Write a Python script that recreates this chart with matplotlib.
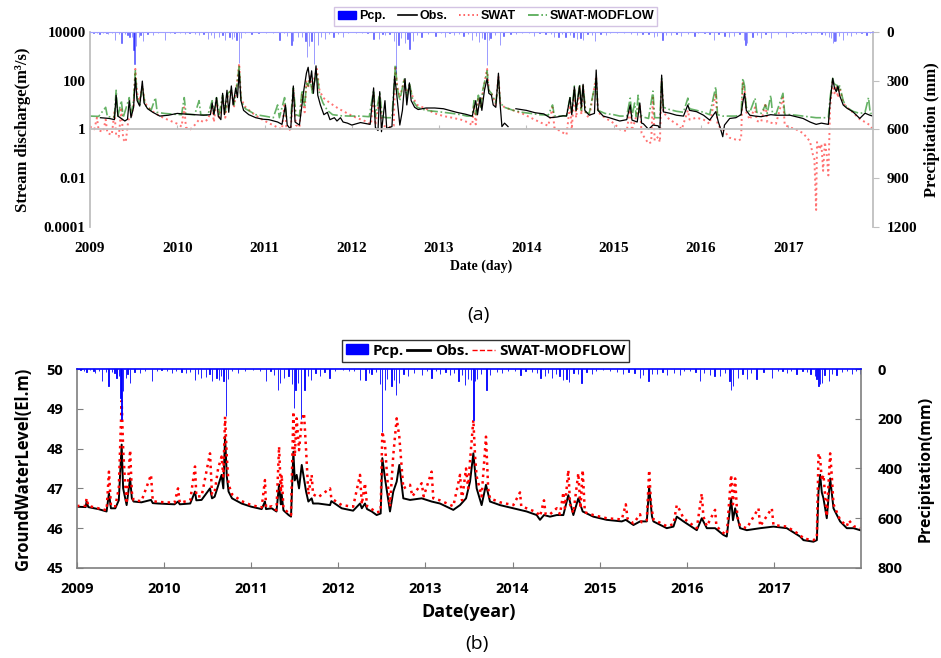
import numpy as np
import matplotlib
matplotlib.use("Agg")
import matplotlib.pyplot as plt
from matplotlib.patches import Patch
from matplotlib.lines import Line2D
from matplotlib.ticker import NullLocator

############################################################################
#                 values (decimal year)                #
############################################################################

years = list(range(2009, 2018))

# daily precipitation events, mm (shared by both panels)
pcp = [
    (2009.04, 6), (2009.08, 10), (2009.11, 12), (2009.15, 5), (2009.19, 8), (2009.21, 16),
    (2009.25, 9), (2009.29, 48), (2009.33, 14), (2009.36, 70), (2009.40, 12), (2009.43, 18),
    (2009.455, 35), (2009.48, 30), (2009.50, 115), (2009.51, 200), (2009.53, 90), (2009.56, 35),
    (2009.58, 20), (2009.61, 55), (2009.66, 12), (2009.72, 18), (2009.78, 8), (2009.86, 48),
    (2009.92, 10), (2009.97, 6),
    (2010.03, 8), (2010.09, 15), (2010.14, 10), (2010.20, 12), (2010.25, 18), (2010.30, 14),
    (2010.355, 44), (2010.39, 20), (2010.42, 38), (2010.48, 32), (2010.52, 20), (2010.55, 50),
    (2010.60, 35), (2010.63, 45), (2010.65, 30), (2010.68, 48), (2010.71, 190), (2010.73, 40),
    (2010.78, 10), (2010.85, 15), (2010.93, 8),
    (2011.02, 5), (2011.10, 8), (2011.17, 50), (2011.22, 10), (2011.26, 25), (2011.31, 84),
    (2011.33, 55), (2011.38, 35), (2011.43, 30), (2011.47, 60), (2011.49, 158), (2011.51, 85),
    (2011.54, 55), (2011.57, 200), (2011.61, 84), (2011.65, 30), (2011.69, 45), (2011.74, 15),
    (2011.79, 30), (2011.84, 12), (2011.90, 35), (2011.96, 8),
    (2012.05, 6), (2012.12, 10), (2012.18, 8), (2012.25, 44), (2012.31, 45), (2012.35, 15),
    (2012.38, 20), (2012.43, 12), (2012.48, 60), (2012.505, 255), (2012.535, 84), (2012.56, 40),
    (2012.61, 70), (2012.64, 45), (2012.66, 105), (2012.70, 55), (2012.75, 20), (2012.80, 30),
    (2012.87, 15), (2012.96, 25),
    (2013.02, 8), (2013.07, 35), (2013.12, 10), (2013.17, 20), (2013.23, 12), (2013.28, 25),
    (2013.33, 15), (2013.38, 48), (2013.42, 25), (2013.455, 63), (2013.49, 40), (2013.52, 45),
    (2013.55, 205), (2013.57, 50), (2013.59, 40), (2013.64, 20), (2013.70, 84), (2013.74, 25),
    (2013.82, 12), (2013.88, 15), (2013.95, 10),
    (2014.03, 8), (2014.09, 25), (2014.15, 10), (2014.22, 12), (2014.28, 15), (2014.32, 35),
    (2014.37, 30), (2014.41, 15), (2014.45, 35), (2014.50, 20), (2014.54, 30), (2014.58, 45),
    (2014.62, 40), (2014.65, 51), (2014.70, 15), (2014.75, 20), (2014.79, 55), (2014.85, 12),
    (2014.91, 20), (2014.96, 8),
    (2015.04, 6), (2015.12, 10), (2015.20, 12), (2015.27, 20), (2015.33, 12), (2015.40, 15),
    (2015.465, 35), (2015.50, 25), (2015.56, 48), (2015.60, 20), (2015.655, 20), (2015.72, 12),
    (2015.77, 25), (2015.85, 15), (2015.925, 25), (2015.97, 10),
    (2016.04, 8), (2016.10, 12), (2016.15, 48), (2016.20, 15), (2016.27, 25), (2016.32, 30),
    (2016.38, 28), (2016.44, 15), (2016.49, 50), (2016.51, 84), (2016.53, 70), (2016.59, 35),
    (2016.64, 20), (2016.69, 40), (2016.74, 15), (2016.80, 40), (2016.88, 12), (2016.975, 35),
    (2017.05, 8), (2017.10, 10), (2017.15, 15), (2017.20, 8), (2017.26, 20), (2017.33, 10),
    (2017.38, 12), (2017.42, 20), (2017.47, 30), (2017.49, 40), (2017.51, 70), (2017.53, 60),
    (2017.55, 55), (2017.58, 25), (2017.63, 50), (2017.67, 20), (2017.72, 25), (2017.78, 12),
    (2017.84, 10), (2017.895, 20), (2017.94, 8), (2017.99, 20),
]

# (a) stream discharge, m3/s
q_obs = [
    (2009.12, 3.0), (2009.22, 2.8), (2009.28, 2.5), (2009.30, 25), (2009.32, 3.5), (2009.40, 2.2),
    (2009.43, 2.6), (2009.45, 15), (2009.47, 3.0), (2009.50, 8), (2009.52, 130), (2009.54, 15),
    (2009.57, 9), (2009.60, 95), (2009.62, 12), (2009.66, 7), (2009.72, 5), (2009.80, 3.5),
    (2009.90, 3.8), (2010.00, 4.5), (2010.10, 4.2), (2010.20, 4.0), (2010.30, 3.8), (2010.38, 4.0),
    (2010.40, 12), (2010.42, 4), (2010.45, 20), (2010.47, 3.5), (2010.50, 2.5), (2010.52, 30),
    (2010.54, 4), (2010.57, 40), (2010.59, 5), (2010.62, 60), (2010.64, 10), (2010.67, 50),
    (2010.69, 20), (2010.71, 250), (2010.73, 15), (2010.76, 6), (2010.82, 4), (2010.90, 3.0),
    (2010.98, 2.6), (2011.05, 2.5), (2011.15, 2.0), (2011.20, 1.6), (2011.24, 10), (2011.26, 1.5),
    (2011.30, 1.0), (2011.33, 60), (2011.35, 2.0), (2011.40, 1.5), (2011.45, 40), (2011.48, 200),
    (2011.50, 350), (2011.52, 80), (2011.54, 250), (2011.56, 30), (2011.59, 400), (2011.61, 25),
    (2011.64, 10), (2011.68, 4), (2011.72, 5), (2011.75, 2.5), (2011.80, 3.0), (2011.83, 2.2),
    (2011.87, 3.0), (2011.90, 2.0), (2011.95, 1.8), (2012.00, 1.5), (2012.10, 1.9), (2012.21, 1.6),
    (2012.25, 50), (2012.27, 1.2), (2012.30, 0.9), (2012.32, 35), (2012.34, 0.8), (2012.38, 15),
    (2012.40, 1.1), (2012.46, 1.3), (2012.49, 150), (2012.51, 40), (2012.53, 8), (2012.55, 1.5),
    (2012.58, 6), (2012.61, 120), (2012.63, 10), (2012.66, 80), (2012.68, 15), (2012.72, 8),
    (2012.76, 6.5), (2012.85, 7.5), (2012.95, 7.5), (2013.05, 7.0), (2013.12, 6.0), (2013.20, 5.0),
    (2013.30, 4.2), (2013.38, 3.5), (2013.42, 15), (2013.44, 4), (2013.47, 20), (2013.49, 6),
    (2013.52, 40), (2013.55, 120), (2013.57, 30), (2013.60, 25), (2013.62, 10), (2013.65, 8),
    (2013.68, 200), (2013.70, 10), (2013.72, 1.3), (2013.75, 1.8), (2013.79, 1.3), (2013.83, np.nan),
    (2013.88, 7.0), (2014.00, 6.0), (2014.10, 4.8), (2014.20, 4.3), (2014.27, 3.0), (2014.35, 3.2),
    (2014.42, 3.6), (2014.46, 3.5), (2014.50, 20), (2014.52, 4), (2014.55, 55), (2014.57, 6),
    (2014.61, 60), (2014.63, 8), (2014.65, 70), (2014.67, 6), (2014.72, 3.8), (2014.78, 4.5),
    (2014.80, 270), (2014.82, 6), (2014.88, 3.5), (2014.95, 3.0), (2015.07, 2.2), (2015.15, 2.5),
    (2015.19, 10), (2015.21, 2.4), (2015.27, 2.0), (2015.30, 12), (2015.32, 1.8), (2015.34, 1.7),
    (2015.40, 1.0), (2015.45, 1.5), (2015.51, 1.4), (2015.53, 1.0), (2015.55, 167), (2015.57, 5.2),
    (2015.64, 4.6), (2015.72, 3.8), (2015.80, 3.5), (2015.85, 10), (2015.87, 6), (2015.95, 5.3),
    (2016.03, 3.8), (2016.10, 2.4), (2016.17, 5.3), (2016.20, 2.0), (2016.22, 1.2), (2016.25, 0.5),
    (2016.27, 1.5), (2016.33, 2.8), (2016.40, 3.0), (2016.46, 4.0), (2016.48, 13), (2016.50, 30),
    (2016.52, 6), (2016.56, 3.8), (2016.62, 3.5), (2016.69, 3.3), (2016.80, 4.0), (2016.86, 3.8),
    (2017.02, 3.8), (2017.09, 3.3), (2017.17, 2.8), (2017.25, 2.0), (2017.32, 1.6), (2017.38, 1.8),
    (2017.46, 1.6), (2017.48, 13), (2017.51, 123), (2017.53, 50), (2017.55, 35), (2017.57, 60),
    (2017.59, 24), (2017.63, 10), (2017.67, 7.5), (2017.74, 5.3), (2017.82, 2.8), (2017.88, 4.6),
    (2017.935, 3.8), (2017.97, 3.5),
]

q_swat = [
    (2009.00, 1.3), (2009.05, 1.0), (2009.08, 3.0), (2009.10, 0.9), (2009.15, 0.8), (2009.18, 2.5),
    (2009.20, 0.7), (2009.25, 0.6), (2009.28, 5), (2009.30, 0.6), (2009.33, 0.5), (2009.36, 8),
    (2009.38, 0.4), (2009.41, 0.3), (2009.44, 2.5), (2009.47, 3), (2009.50, 10), (2009.52, 300),
    (2009.54, 30), (2009.57, 15), (2009.60, 60), (2009.63, 12), (2009.70, 6), (2009.80, 3.5),
    (2009.90, 2.4), (2010.00, 1.7), (2010.05, 1.3), (2010.08, 8), (2010.10, 1.2), (2010.15, 1.0),
    (2010.20, 1.5), (2010.25, 2.5), (2010.30, 2.0), (2010.35, 2.5), (2010.40, 8), (2010.42, 2.0),
    (2010.45, 15), (2010.48, 2.5), (2010.52, 20), (2010.55, 3), (2010.58, 25), (2010.62, 40),
    (2010.65, 8), (2010.68, 60), (2010.71, 500), (2010.73, 20), (2010.77, 9), (2010.85, 5),
    (2010.95, 2.8), (2011.05, 1.8), (2011.15, 1.2), (2011.20, 1.0), (2011.23, 12), (2011.25, 1.3),
    (2011.30, 0.9), (2011.33, 40), (2011.36, 1.5), (2011.40, 1.2), (2011.43, 30), (2011.46, 5),
    (2011.48, 100), (2011.50, 50), (2011.52, 150), (2011.55, 40), (2011.57, 120), (2011.60, 300),
    (2011.63, 40), (2011.67, 20), (2011.75, 12), (2011.85, 7), (2011.95, 4.5), (2012.05, 3.0),
    (2012.15, 2.2), (2012.22, 1.6), (2012.25, 30), (2012.27, 1.5), (2012.32, 20), (2012.35, 1.4),
    (2012.40, 1.3), (2012.45, 1.2), (2012.48, 1.4), (2012.50, 400), (2012.52, 60), (2012.55, 20),
    (2012.60, 100), (2012.63, 25), (2012.66, 60), (2012.70, 20), (2012.75, 10), (2012.85, 7),
    (2012.95, 4.5), (2013.05, 3.5), (2013.15, 3.0), (2013.25, 2.5), (2013.32, 2.0), (2013.38, 1.5),
    (2013.40, 10), (2013.42, 1.6), (2013.45, 20), (2013.48, 8), (2013.50, 30), (2013.55, 300),
    (2013.57, 40), (2013.60, 30), (2013.65, 10), (2013.68, 150), (2013.70, 12), (2013.75, 8),
    (2013.85, 6), (2013.95, 4.5), (2014.05, 3.0), (2014.15, 2.0), (2014.25, 1.4), (2014.30, 8),
    (2014.32, 1.2), (2014.40, 0.8), (2014.46, 0.6), (2014.50, 10), (2014.52, 1.0), (2014.55, 40),
    (2014.57, 3), (2014.61, 50), (2014.63, 4), (2014.65, 60), (2014.68, 4), (2014.72, 3),
    (2014.80, 150), (2014.82, 5), (2014.90, 3.0), (2015.00, 1.8), (2015.07, 1.0), (2015.15, 0.85),
    (2015.19, 8), (2015.21, 0.9), (2015.30, 10), (2015.32, 0.7), (2015.40, 0.26), (2015.43, 0.3),
    (2015.45, 20), (2015.47, 0.35), (2015.51, 0.5), (2015.53, 0.3), (2015.55, 100), (2015.57, 5),
    (2015.64, 2.5), (2015.72, 1.7), (2015.78, 1.0), (2015.85, 6), (2015.87, 2.5), (2015.95, 3.0),
    (2016.03, 2.5), (2016.10, 1.7), (2016.17, 30), (2016.19, 1.5), (2016.25, 1.0), (2016.33, 0.45),
    (2016.38, 0.4), (2016.43, 0.35), (2016.46, 0.4), (2016.48, 80), (2016.50, 40), (2016.52, 5),
    (2016.56, 2.5), (2016.62, 8), (2016.64, 2.2), (2016.69, 2.0), (2016.74, 12), (2016.76, 2.0),
    (2016.86, 1.7), (2016.94, 20), (2016.96, 1.5), (2017.02, 1.2), (2017.09, 1.0), (2017.17, 0.7),
    (2017.25, 0.32), (2017.28, 0.1), (2017.30, 0.06), (2017.32, 0.0005), (2017.33, 0.3),
    (2017.36, 0.15), (2017.38, 0.25), (2017.40, 0.02), (2017.42, 0.3), (2017.44, 0.1),
    (2017.46, 0.013), (2017.48, 8), (2017.51, 100), (2017.53, 30), (2017.55, 60), (2017.57, 20),
    (2017.59, 50), (2017.63, 12), (2017.67, 8), (2017.74, 5), (2017.82, 2.6), (2017.88, 2.0),
    (2017.935, 1.5), (2017.97, 1.0),
]

q_swmf = [
    (2009.00, 3.5), (2009.10, 3.4), (2009.18, 8), (2009.20, 3.3), (2009.28, 3.2), (2009.30, 40),
    (2009.32, 3.5), (2009.36, 15), (2009.38, 3.0), (2009.45, 20), (2009.47, 4), (2009.50, 15),
    (2009.52, 250), (2009.54, 20), (2009.57, 10), (2009.60, 60), (2009.63, 10), (2009.70, 6),
    (2009.75, 20), (2009.77, 5), (2009.85, 4.5), (2009.95, 4.2), (2010.05, 4.0), (2010.08, 20),
    (2010.10, 4.2), (2010.20, 4.0), (2010.25, 15), (2010.27, 4.0), (2010.35, 3.8), (2010.40, 15),
    (2010.42, 4.5), (2010.45, 20), (2010.48, 4), (2010.52, 25), (2010.55, 5), (2010.58, 30),
    (2010.62, 40), (2010.65, 10), (2010.68, 50), (2010.71, 400), (2010.73, 15), (2010.78, 7),
    (2010.90, 4.0), (2011.00, 3.5), (2011.10, 3.0), (2011.15, 10), (2011.17, 3.0), (2011.23, 20),
    (2011.25, 3.2), (2011.30, 3.0), (2011.33, 50), (2011.36, 4), (2011.40, 3.5), (2011.43, 40),
    (2011.46, 8), (2011.48, 80), (2011.50, 60), (2011.52, 120), (2011.55, 30), (2011.57, 80),
    (2011.60, 200), (2011.63, 30), (2011.67, 12), (2011.72, 6), (2011.78, 4.0), (2011.88, 3.6),
    (2011.98, 3.5), (2012.10, 3.5), (2012.20, 3.3), (2012.25, 40), (2012.27, 3.3), (2012.32, 30),
    (2012.35, 3.2), (2012.40, 3.0), (2012.46, 3.0), (2012.50, 450), (2012.52, 50), (2012.55, 15),
    (2012.60, 120), (2012.63, 20), (2012.66, 80), (2012.70, 15), (2012.75, 8), (2012.85, 6),
    (2012.95, 5.5), (2013.05, 5.0), (2013.15, 4.5), (2013.25, 4.0), (2013.32, 3.5), (2013.38, 3.5),
    (2013.40, 15), (2013.42, 4), (2013.45, 25), (2013.48, 8), (2013.50, 40), (2013.55, 250),
    (2013.57, 40), (2013.60, 30), (2013.65, 12), (2013.68, 100), (2013.70, 12), (2013.75, 8),
    (2013.85, 6), (2013.95, 5.0), (2014.05, 4.5), (2014.15, 4.0), (2014.25, 3.8), (2014.30, 10),
    (2014.32, 3.6), (2014.40, 3.5), (2014.46, 3.6), (2014.50, 20), (2014.52, 5), (2014.55, 60),
    (2014.57, 6), (2014.61, 70), (2014.63, 6), (2014.65, 60), (2014.68, 5), (2014.72, 4.5),
    (2014.80, 120), (2014.82, 6), (2014.90, 4.5), (2015.00, 4.0), (2015.07, 3.5), (2015.15, 3.5),
    (2015.19, 19), (2015.21, 3.5), (2015.24, 12), (2015.26, 3.3), (2015.28, 25), (2015.30, 4),
    (2015.34, 3.2), (2015.40, 2.8), (2015.45, 37), (2015.47, 3), (2015.51, 3.0), (2015.53, 3.0),
    (2015.55, 120), (2015.57, 8), (2015.64, 6.5), (2015.72, 5.5), (2015.80, 5.0), (2015.85, 19),
    (2015.87, 7), (2015.95, 6.0), (2016.03, 5.0), (2016.10, 4.0), (2016.17, 56), (2016.19, 4.0),
    (2016.25, 3.5), (2016.33, 3.5), (2016.40, 3.5), (2016.46, 4.0), (2016.48, 123), (2016.50, 60),
    (2016.52, 8), (2016.56, 5), (2016.62, 19), (2016.64, 5), (2016.69, 4.5), (2016.74, 10),
    (2016.76, 4.5), (2016.80, 25), (2016.82, 4.5), (2016.86, 4.2), (2016.94, 30), (2016.96, 4.2),
    (2017.02, 4.0), (2017.09, 3.8), (2017.17, 3.5), (2017.25, 3.2), (2017.32, 3.0), (2017.38, 3.0),
    (2017.46, 3.0), (2017.48, 20), (2017.51, 123), (2017.53, 60), (2017.55, 80), (2017.57, 40),
    (2017.59, 60), (2017.63, 15), (2017.67, 8), (2017.74, 5.5), (2017.82, 4.5), (2017.88, 5.0),
    (2017.92, 20), (2017.94, 4.5), (2017.97, 4.5),
]

# (b) groundwater level, El.m
gw_obs = [
    (2009.00, 46.54), (2009.10, 46.53), (2009.11, 46.67), (2009.13, 46.53), (2009.245, 46.48),
    (2009.34, 46.42), (2009.367, 46.88), (2009.39, 46.50), (2009.44, 46.50), (2009.48, 46.70),
    (2009.513, 48.10), (2009.53, 47.00), (2009.57, 46.58), (2009.61, 47.25), (2009.63, 46.75),
    (2009.65, 46.67), (2009.74, 46.65), (2009.85, 46.71), (2009.87, 46.63), (2009.93, 46.62),
    (2010.12, 46.60), (2010.16, 46.67), (2010.18, 46.60), (2010.30, 46.62), (2010.355, 46.92),
    (2010.37, 46.70), (2010.43, 46.71), (2010.527, 47.00), (2010.55, 46.75), (2010.58, 46.79),
    (2010.66, 47.34), (2010.68, 47.00), (2010.70, 48.30), (2010.72, 47.30), (2010.74, 46.92),
    (2010.78, 46.75), (2010.89, 46.62), (2011.00, 46.54), (2011.12, 46.48), (2011.158, 46.67),
    (2011.17, 46.48), (2011.235, 46.50), (2011.29, 46.42), (2011.32, 47.10), (2011.34, 46.60),
    (2011.35, 46.85), (2011.37, 46.45), (2011.43, 46.33), (2011.457, 46.29), (2011.484, 47.92),
    (2011.50, 47.20), (2011.522, 47.34), (2011.549, 47.00), (2011.58, 47.59), (2011.606, 47.25),
    (2011.63, 46.92), (2011.656, 46.67), (2011.694, 46.75), (2011.71, 46.62), (2011.77, 46.62),
    (2011.905, 46.58), (2011.92, 46.68), (2012.039, 46.50), (2012.17, 46.44), (2012.249, 46.62),
    (2012.27, 46.50), (2012.306, 46.62), (2012.33, 46.48), (2012.383, 46.42), (2012.44, 46.33),
    (2012.486, 46.37), (2012.505, 47.76), (2012.536, 47.25), (2012.593, 46.42), (2012.631, 46.92),
    (2012.67, 47.17), (2012.70, 47.59), (2012.746, 46.75), (2012.823, 46.71), (2012.957, 46.75),
    (2013.071, 46.67), (2013.167, 46.62), (2013.32, 46.46), (2013.397, 46.58), (2013.466, 46.75),
    (2013.512, 47.17), (2013.55, 47.88), (2013.588, 47.00), (2013.645, 46.58), (2013.695, 47.09),
    (2013.741, 46.67), (2013.856, 46.58), (2014.009, 46.50), (2014.162, 46.42), (2014.277, 46.33),
    (2014.315, 46.21), (2014.361, 46.33), (2014.43, 46.29), (2014.507, 46.33), (2014.583, 46.33),
    (2014.64, 46.83), (2014.698, 46.33), (2014.755, 46.75), (2014.805, 46.42), (2014.927, 46.29),
    (2015.08, 46.21), (2015.254, 46.17), (2015.30, 46.21), (2015.388, 46.08), (2015.464, 46.17),
    (2015.541, 46.17), (2015.568, 47.04), (2015.60, 46.30), (2015.617, 46.17), (2015.77, 46.00),
    (2015.847, 46.04), (2015.885, 46.29), (2015.962, 46.17), (2016.115, 45.95), (2016.172, 46.25),
    (2016.23, 46.00), (2016.325, 46.00), (2016.421, 45.83), (2016.459, 45.79), (2016.509, 46.75),
    (2016.53, 46.20), (2016.555, 46.50), (2016.612, 46.00), (2016.689, 45.95), (2016.842, 46.00),
    (2016.995, 46.04), (2017.148, 46.00), (2017.301, 45.79), (2017.339, 45.70), (2017.454, 45.66),
    (2017.493, 45.70), (2017.512, 46.92), (2017.531, 47.34), (2017.55, 46.90), (2017.569, 46.75),
    (2017.607, 46.25), (2017.646, 47.25), (2017.684, 46.50), (2017.76, 46.17), (2017.837, 46.00),
    (2017.914, 46.00), (2017.99, 45.95),
]

gw_swmf = [
    (2009.00, 46.56), (2009.10, 46.56), (2009.11, 46.75), (2009.13, 46.56), (2009.245, 46.50),
    (2009.34, 46.45), (2009.367, 47.42), (2009.39, 46.55), (2009.44, 46.55), (2009.48, 47.00),
    (2009.513, 49.20), (2009.53, 48.00), (2009.55, 47.20), (2009.57, 46.62), (2009.61, 47.96),
    (2009.63, 46.90), (2009.65, 46.70), (2009.74, 46.68), (2009.85, 47.34), (2009.87, 46.68),
    (2009.93, 46.66), (2010.12, 46.64), (2010.16, 47.00), (2010.18, 46.64), (2010.30, 46.70),
    (2010.355, 47.55), (2010.37, 46.80), (2010.43, 46.80), (2010.527, 47.88), (2010.55, 46.85),
    (2010.58, 46.90), (2010.62, 47.50), (2010.66, 47.80), (2010.68, 47.30), (2010.70, 48.80),
    (2010.72, 47.80), (2010.74, 47.10), (2010.78, 46.85), (2010.89, 46.68), (2011.00, 46.58),
    (2011.12, 46.52), (2011.158, 47.21), (2011.17, 46.52), (2011.235, 46.55), (2011.29, 46.45),
    (2011.32, 48.05), (2011.34, 46.90), (2011.35, 47.34), (2011.37, 46.50), (2011.43, 46.38),
    (2011.457, 46.33), (2011.484, 48.93), (2011.50, 47.80), (2011.522, 48.76), (2011.549, 47.96),
    (2011.58, 48.68), (2011.606, 48.89), (2011.63, 47.96), (2011.656, 46.85), (2011.694, 47.34),
    (2011.71, 46.85), (2011.77, 46.78), (2011.905, 47.00), (2011.92, 46.75), (2012.039, 46.58),
    (2012.17, 46.54), (2012.249, 47.34), (2012.27, 46.60), (2012.306, 47.13), (2012.33, 46.55),
    (2012.383, 46.48), (2012.44, 46.40), (2012.486, 46.42), (2012.505, 48.43), (2012.536, 48.10),
    (2012.56, 47.30), (2012.593, 46.55), (2012.631, 47.84), (2012.67, 48.76), (2012.70, 48.30),
    (2012.746, 47.00), (2012.823, 47.09), (2012.85, 46.80), (2012.957, 47.13), (2012.98, 46.80),
    (2013.071, 47.42), (2013.09, 46.75), (2013.167, 46.70), (2013.32, 46.55), (2013.397, 47.34),
    (2013.42, 46.70), (2013.466, 47.50), (2013.49, 47.00), (2013.512, 47.70), (2013.55, 48.72),
    (2013.57, 47.80), (2013.588, 47.30), (2013.645, 46.80), (2013.695, 48.30), (2013.72, 47.00),
    (2013.741, 46.75), (2013.856, 46.65), (2014.009, 46.58), (2014.086, 46.90), (2014.10, 46.55),
    (2014.162, 46.50), (2014.277, 46.40), (2014.315, 46.30), (2014.361, 46.70), (2014.38, 46.35),
    (2014.43, 46.35), (2014.507, 46.50), (2014.545, 46.35), (2014.583, 46.90), (2014.60, 46.50),
    (2014.64, 47.46), (2014.66, 46.60), (2014.698, 46.38), (2014.755, 47.38), (2014.78, 46.50),
    (2014.805, 47.46), (2014.83, 46.40), (2014.927, 46.33), (2015.08, 46.25), (2015.254, 46.22),
    (2015.30, 46.60), (2015.32, 46.24), (2015.388, 46.12), (2015.464, 46.35), (2015.48, 46.15),
    (2015.541, 46.20), (2015.568, 47.46), (2015.59, 46.60), (2015.617, 46.22), (2015.77, 46.05),
    (2015.847, 46.10), (2015.885, 46.58), (2015.92, 46.45), (2015.962, 46.25), (2016.115, 46.00),
    (2016.172, 46.87), (2016.19, 46.30), (2016.23, 46.05), (2016.325, 46.46), (2016.34, 46.05),
    (2016.421, 45.88), (2016.459, 45.84), (2016.509, 47.34), (2016.53, 46.60), (2016.555, 47.25),
    (2016.58, 46.30), (2016.612, 46.05), (2016.689, 46.00), (2016.823, 46.50), (2016.842, 46.05),
    (2016.976, 46.50), (2016.995, 46.08), (2017.148, 46.04), (2017.301, 45.83), (2017.339, 45.74),
    (2017.454, 45.70), (2017.493, 45.75), (2017.512, 47.88), (2017.531, 47.75), (2017.55, 47.20),
    (2017.569, 47.34), (2017.607, 46.30), (2017.646, 47.88), (2017.665, 47.30), (2017.684, 46.60),
    (2017.76, 46.21), (2017.837, 46.05), (2017.86, 46.20), (2017.914, 46.05), (2017.99, 46.00),
]


def unzip(pairs):
    a = np.array(pairs, dtype=float)
    return a[:, 0], a[:, 1]


pcp_t, pcp_mm = unzip(pcp)
qo_t, qo = unzip(q_obs)
qs_t, qs = unzip(q_swat)
qm_t, qm = unzip(q_swmf)
go_t, go = unzip(gw_obs)
gm_t, gm = unzip(gw_swmf)

############################################################################
#                                 Plotting                                 #
############################################################################

fig = plt.figure(figsize=(9.41, 6.58), dpi=100)

SERIF = 'Liberation Serif'
SANS = 'Open Sans'
grey = '#bfbfbf'

# ---------------------------- (a) discharge ------------------------------
ax = fig.add_axes([0.0956, 0.655, 0.832, 0.2968])
ax.plot(qs_t, qs, color='red', ls=':', lw=1.4, alpha=0.55)
ax.plot(qm_t, qm, color='green', ls='-.', lw=1.2, alpha=0.6)
ax.plot(qo_t, qo, color='black', lw=0.9)
ax.set_yscale('log')
ax.set_ylim(1e-4, 1e4)
ax.set_xlim(2009, 2017.97)
ax.set_yticks([1e-4, 1e-2, 1, 1e2, 1e4])
ax.set_yticklabels(['0.0001', '0.01', '1', '100', '10000'])
ax.yaxis.set_minor_locator(NullLocator())
ax.tick_params(axis='y', length=0, pad=3)

# horizontal axis crosses at 1
ax.spines['bottom'].set_position(('data', 1))
ax.spines['bottom'].set_color(grey)
ax.spines['bottom'].set_linewidth(1.3)
ax.spines['left'].set_color(grey)
ax.spines['left'].set_linewidth(1.3)
ax.spines['top'].set_visible(False)
ax.spines['right'].set_visible(False)
ax.set_xticks(years)
ax.tick_params(axis='x', direction='in', length=3, color=grey, labelbottom=False)

sec = ax.secondary_xaxis('bottom')
sec.set_xticks(years)
sec.spines['bottom'].set_visible(False)
sec.tick_params(length=0, pad=11)
for lab in sec.get_xticklabels():
    lab.set_fontfamily(SERIF)
    lab.set_fontweight('bold')
    lab.set_fontsize(11)
sec.set_xlabel('Date (day)', family=SERIF, weight='bold', fontsize=10, labelpad=3)

for lab in ax.get_yticklabels():
    lab.set_fontfamily(SERIF)
    lab.set_fontweight('bold')
    lab.set_fontsize(11)
ax.set_ylabel('Stream discharge(m³/s)', family=SERIF, weight='bold', fontsize=12, labelpad=9)

axp = ax.twinx()
axp.bar(pcp_t, pcp_mm, width=0.004, color='blue', edgecolor='blue', lw=0.5, alpha=0.55, align='center')
axp.set_ylim(1200, 0)
axp.set_xlim(2009, 2017.97)
axp.set_yticks([0, 300, 600, 900, 1200])
for s in ['left', 'bottom']:
    axp.spines[s].set_visible(False)
axp.spines['top'].set_color('#a0a0ff')
axp.spines['right'].set_color(grey)
axp.spines['right'].set_linewidth(1.3)
axp.tick_params(axis='y', direction='out', length=4, color=grey, pad=6)
for lab in axp.get_yticklabels():
    lab.set_fontfamily(SERIF)
    lab.set_fontweight('bold')
    lab.set_fontsize(11)
axp.set_ylabel('Precipitation (mm)', family=SERIF, weight='bold', fontsize=12, labelpad=5)

fig.legend(
    handles=[Patch(facecolor='blue', edgecolor='blue'),
             Line2D([], [], color='black', lw=1.2),
             Line2D([], [], color='red', ls=':', lw=1.2, alpha=0.7),
             Line2D([], [], color='green', ls='-.', lw=1.2, alpha=0.7)],
    labels=['Pcp.', 'Obs.', 'SWAT', 'SWAT-MODFLOW'],
    loc='center', bbox_to_anchor=(0.527, 0.975), ncol=4,
    frameon=True, fancybox=False, edgecolor='#c8b4dc',
    prop={'family': 'Liberation Sans', 'weight': 'bold', 'size': 9},
    handlelength=1.5, handleheight=0.5, handletextpad=0.2, columnspacing=1.0,
    borderpad=0.25)

fig.text(0.508, 1 - 315 / 658, '(a)', ha='center', va='center', fontsize=14, family=SANS)

# ---------------------------- (b) groundwater ----------------------------
dark = '#7f7f7f'
bx = fig.add_axes([0.0818, 0.1368, 0.8332, 0.3024])
bx.plot(go_t, go, color='black', lw=1.4)
bx.plot(gm_t, gm, color='red', ls=':', lw=1.8)
bx.set_xlim(2009, 2018)
bx.set_ylim(45, 50)
bx.set_xticks(years)
bx.set_yticks([45, 46, 47, 48, 49, 50])
bx.tick_params(direction='in', length=4, color=dark, pad=10)
for s in ['left', 'bottom']:
    bx.spines[s].set_color(dark)
    bx.spines[s].set_linewidth(1.2)
bx.spines['top'].set_visible(False)
bx.spines['right'].set_visible(False)
for lab in bx.get_xticklabels() + bx.get_yticklabels():
    lab.set_fontfamily(SANS)
    lab.set_fontweight('bold')
    lab.set_fontsize(10.5)
bx.set_ylabel('GroundWaterLevel(El.m)', family=SANS, weight='bold', fontsize=12, labelpad=10)
bx.set_xlabel('Date(year)', family=SANS, weight='bold', fontsize=13, labelpad=5)

bxp = bx.twinx()
bxp.bar(pcp_t, pcp_mm, width=0.004, color='blue', edgecolor='blue', lw=0.6, align='center')
bxp.set_ylim(800, 0)
bxp.set_xlim(2009, 2018)
bxp.set_yticks([0, 200, 400, 600, 800])
for s in ['left', 'bottom']:
    bxp.spines[s].set_visible(False)
bxp.spines['top'].set_color('blue')
bxp.spines['top'].set_linewidth(1.2)
bxp.spines['right'].set_color(dark)
bxp.spines['right'].set_linewidth(1.2)
bxp.tick_params(axis='y', direction='in', length=4, color=dark, pad=12)
for lab in bxp.get_yticklabels():
    lab.set_fontfamily(SANS)
    lab.set_fontweight('bold')
    lab.set_fontsize(10.5)
bxp.set_ylabel('Precipitation(mm)', family=SANS, weight='bold', fontsize=11.5, labelpad=11)

fig.legend(
    handles=[Patch(facecolor='blue', edgecolor='blue'),
             Line2D([], [], color='black', lw=2),
             Line2D([], [], color='red', ls='--', lw=1)],
    labels=['Pcp.', 'Obs.', 'SWAT-MODFLOW'],
    loc='center', bbox_to_anchor=(0.516, 0.467), ncol=3,
    frameon=True, fancybox=False, edgecolor='black',
    prop={'family': SANS, 'weight': 'bold', 'size': 11},
    handlelength=1.5, handleheight=0.6, handletextpad=0.3, columnspacing=0.2,
    borderpad=0.25)
fig.legends[-1].get_frame().set_linewidth(1.0)

fig.text(0.507, 1 - 644 / 658, '(b)', ha='center', va='center', fontsize=14, family=SANS)

fig.savefig('out.png', dpi=100)
